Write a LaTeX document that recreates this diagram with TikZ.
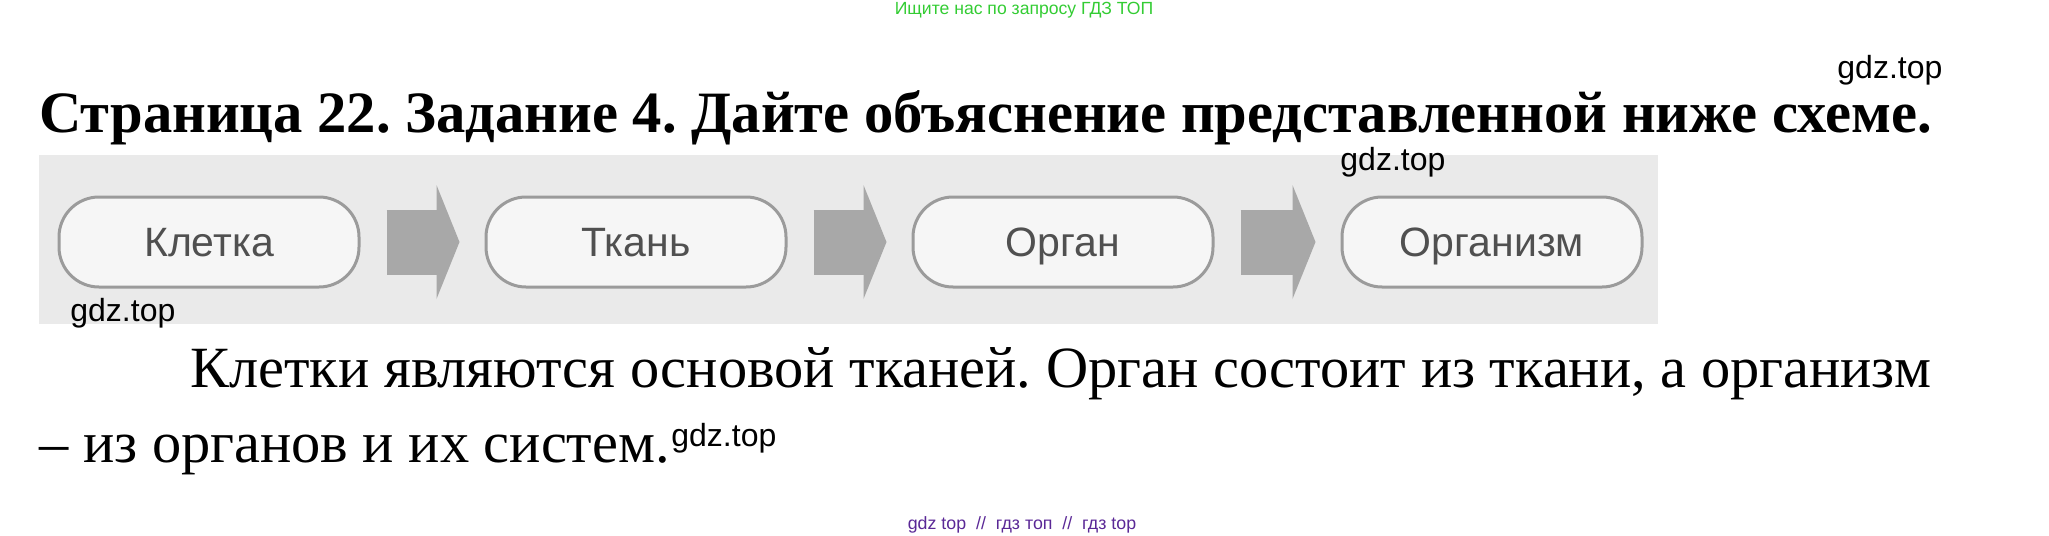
\documentclass[tikz,border=0pt]{standalone}
\usepackage{fontspec}
\setmainfont{Liberation Serif}
\setsansfont{Liberation Sans}
\usetikzlibrary{arrows.meta, positioning}
\frenchspacing

\definecolor{wmgreen}{RGB}{51,204,51}
\definecolor{wmpurple}{RGB}{90,40,150}
\definecolor{bggray}{RGB}{234,234,234}
\definecolor{boxgray}{RGB}{155,155,155}
\definecolor{arrowgray}{RGB}{168,168,168}
\definecolor{textgray}{RGB}{80,80,80}

\begin{document}
\begin{tikzpicture}
[x=0.5pt, y=-0.5pt, inner sep=0pt,
stage/.style={draw=boxgray, line width=1.5pt, fill=white!55!bggray, rounded corners=20pt,
  minimum width=150pt, minimum height=45pt, text height=16pt, text depth=1.6pt,
  font=\sffamily\fontsize{20.5pt}{23pt}\selectfont, text=textgray},
flow/.style={draw=arrowgray, line width=32.5pt,
  -{Triangle[length=11.5pt, width=57pt, line width=0pt]},
  shorten <=13pt, shorten >=12.5pt},
wmark/.style={font=\sffamily\fontsize{16pt}{18pt}\selectfont, anchor=base west},
every node/.style={anchor=base west}
]

\useasboundingbox (0,0) rectangle (2049,535);

% scan of the scheme
\fill[bggray] (39,155) rectangle (1658,324);

\node[stage, anchor=center] (kletka) at (209,242) {Клетка};
\node[stage, anchor=center, right=62pt of kletka] (tkan) {Ткань};
\node[stage, anchor=center, right=62pt of tkan] (organ) {Орган};
\node[stage, anchor=center, right=63pt of organ] (organizm) {Организм};

\begin{scope}
\draw[flow] (kletka) -- (tkan) ;
\draw[flow] (tkan) -- (organ) ;
\draw[flow] (organ) -- (organizm) ;
\end{scope}

% texts
\node[font=\bfseries\fontsize{29.3pt}{34pt}\selectfont] (title) at (39,133)
  {Страница 22. Задание 4. Дайте объяснение представленной ниже схеме.};
\node[font=\fontsize{29.2pt}{33pt}\selectfont] (line1) at (190,387)
  {Клетки являются основой тканей. Орган состоит из ткани, а организм};
\node[font=\fontsize{29.2pt}{33pt}\selectfont] (line2) at (39,462)
  {– из органов и их систем.};

% watermarks
\node[wmark] (wm1) at (1837,79) {gdz.top};
\node[wmark] (wm2) at (1340,170) {gdz.top};
\node[wmark] (wm3) at (70,321) {gdz.top};
\node[wmark] (wm4) at (671,446) {gdz.top};
\node[anchor=base, font=\sffamily\fontsize{8.8pt}{10pt}\selectfont, text=wmgreen] (search) at (1024,15)
  {Ищите нас по запросу ГДЗ ТОП};
\node[anchor=base, font=\sffamily\fontsize{8.9pt}{10pt}\selectfont, text=wmpurple] (footer) at (1022,529)
  {gdz top\ \ //\ \ гдз топ\ \ //\ \ гдз top};

\end{tikzpicture}
\end{document}
